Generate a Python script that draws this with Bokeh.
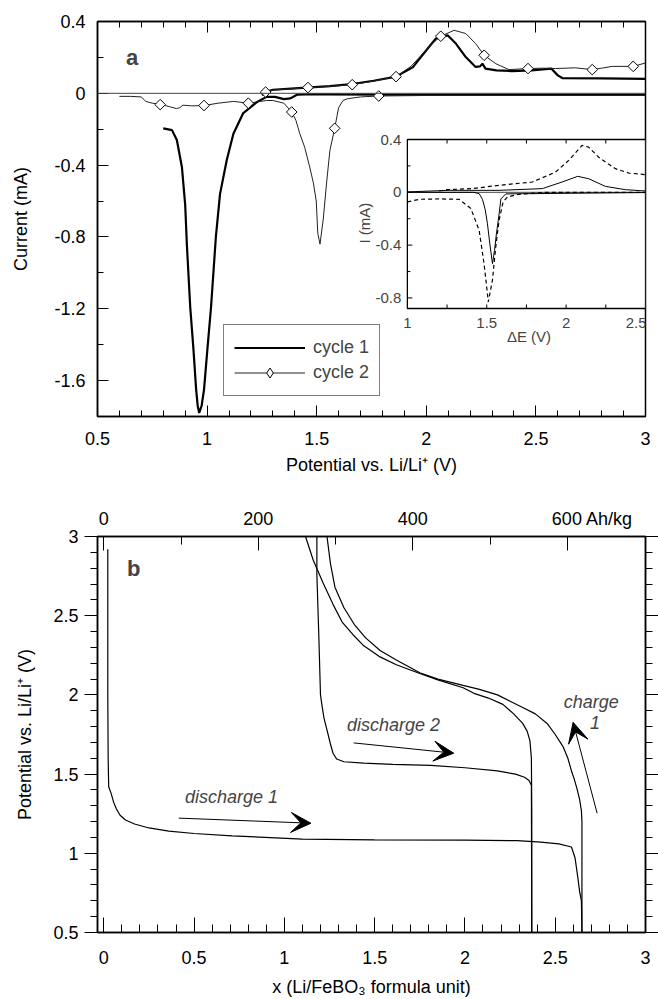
import numpy as np
from bokeh.plotting import figure
from bokeh.layouts import column
from bokeh.models import (Range1d, LinearAxis, FixedTicker, CustomJSTickFormatter, Span,
                          Legend, LegendItem, Arrow, VeeHead, Label)
from bokeh.embed import file_html
from bokeh.resources import INLINE

FONT = "Liberation Sans"

# ---------------- panel a : cyclic voltammetry ----------------
# cycle 1, cathodic sweep (3 V -> 0.8 V)
c1_cath_v = [3.0, 2.6, 2.2, 1.8, 1.55, 1.45, 1.41, 1.38, 1.35, 1.31, 1.271, 1.226, 1.165, 1.12, 1.09,
             1.059, 1.04, 1.018, 1.001, 0.986, 0.975, 0.964, 0.957, 0.95, 0.938, 0.923, 0.908, 0.90,
             0.885, 0.862, 0.84, 0.80]
c1_cath_i = [-0.008, -0.008, -0.008, -0.008, -0.006, -0.006, -0.008, -0.028, -0.032, -0.02, -0.02,
             -0.05, -0.11, -0.225, -0.37, -0.56, -0.80, -1.19, -1.43, -1.65, -1.74, -1.78, -1.74,
             -1.65, -1.43, -1.19, -0.85, -0.62, -0.41, -0.26, -0.205, -0.195]
# cycle 1, anodic sweep
c1_anod_v = [1.25, 1.27, 1.30, 1.40, 1.47, 1.56, 1.66, 1.76, 1.862, 1.94, 2.0, 2.044, 2.097, 2.135,
             2.18, 2.225, 2.245, 2.256, 2.27, 2.32, 2.39, 2.48, 2.57, 2.60, 2.62, 2.8, 3.0]
c1_anod_i = [-0.01, 0.008, 0.02, 0.028, 0.033, 0.04, 0.052, 0.07, 0.093, 0.147, 0.24, 0.305, 0.323,
             0.277, 0.202, 0.147, 0.15, 0.165, 0.138, 0.128, 0.124, 0.128, 0.138, 0.10, 0.085,
             0.083, 0.08]
# cycle 2, cathodic sweep (3 V -> 0.6 V)
c2_cath_v = [3.0, 2.5, 2.0, 1.78, 1.70, 1.64, 1.62, 1.60, 1.582, 1.56, 1.545, 1.53, 1.515, 1.505,
             1.498, 1.485, 1.468, 1.445, 1.423, 1.405, 1.386, 1.35, 1.30, 1.27, 1.19, 1.12, 1.05,
             0.986, 0.93, 0.89, 0.875, 0.86, 0.83, 0.79, 0.75, 0.72, 0.70, 0.65, 0.60]
c2_cath_i = [-0.012, -0.012, -0.012, -0.015, -0.02, -0.03, -0.04, -0.08, -0.195, -0.32, -0.5, -0.7,
             -0.84, -0.78, -0.6, -0.5, -0.41, -0.3, -0.225, -0.15, -0.104, -0.055, -0.04, -0.04,
             -0.055, -0.045, -0.055, -0.068, -0.07, -0.066, -0.08, -0.085, -0.075, -0.062, -0.055,
             -0.045, -0.02, -0.017, -0.017]
# cycle 2, anodic sweep
c2_anod_v = [1.25, 1.267, 1.30, 1.40, 1.46, 1.559, 1.662, 1.76, 1.862, 1.93, 1.983, 2.03, 2.066,
             2.127, 2.18, 2.225, 2.264, 2.317, 2.377, 2.464, 2.53, 2.59, 2.68, 2.757, 2.80, 2.848,
             2.944, 3.0]
c2_anod_i = [0.0, 0.007, 0.018, 0.026, 0.032, 0.038, 0.048, 0.068, 0.093, 0.15, 0.22, 0.28, 0.318,
             0.351, 0.333, 0.277, 0.212, 0.165, 0.132, 0.138, 0.14, 0.138, 0.142, 0.132, 0.14,
             0.15, 0.15, 0.169]
# cycle 2 symbol positions
c2_mark_v = [0.786, 0.986, 1.188, 1.386, 1.582, 1.783, 1.267, 1.46, 1.662, 1.862, 2.066, 2.264,
             2.464, 2.757, 2.944]
c2_mark_i = [-0.063, -0.068, -0.055, -0.104, -0.195, -0.015, 0.007, 0.032, 0.048, 0.093, 0.318,
             0.212, 0.138, 0.132, 0.15]

a_xticks = [0.5, 1.0, 1.5, 2.0, 2.5, 3.0]
a_xminor = [round(0.5 + 0.1 * k, 2) for k in range(26)]
a_yticks = [0.4, 0.0, -0.4, -0.8, -1.2, -1.6]
a_yminor = [0.2, -0.2, -0.6, -1.0, -1.4, -1.8]

# inset (I vs dE)
in_dash_c_x = [1.0, 1.075, 1.2, 1.326, 1.40, 1.452, 1.483, 1.51, 1.536, 1.557, 1.578, 1.603, 1.63,
               1.703, 1.87, 2.5]
in_dash_c_y = [-0.073, -0.053, -0.05, -0.053, -0.123, -0.287, -0.54, -0.83, -0.664, -0.41, -0.21,
               -0.073, -0.035, -0.015, 0.0, 0.0]
in_dash_a_x = [1.20, 1.243, 1.41, 1.578, 1.787, 1.933, 2.017, 2.10, 2.142, 2.205, 2.31, 2.394, 2.5]
in_dash_a_y = [0.01, 0.02, 0.028, 0.053, 0.078, 0.153, 0.242, 0.355, 0.342, 0.266, 0.179, 0.146,
               0.134]
in_sol_c_x = [1.0, 1.42, 1.452, 1.473, 1.49, 1.504, 1.519, 1.536, 1.549, 1.561, 1.578, 1.589, 1.62,
              2.5]
in_sol_c_y = [0.0, 0.0, -0.01, -0.053, -0.13, -0.234, -0.385, -0.54, -0.44, -0.314, -0.163, -0.05,
              -0.012, -0.002]
in_sol_a_x = [1.0, 1.264, 1.578, 1.85, 1.975, 2.073, 2.142, 2.247, 2.373, 2.5]
in_sol_a_y = [0.003, 0.015, 0.015, 0.028, 0.078, 0.121, 0.103, 0.045, 0.02, 0.01]
in_xlim = [1.0, 2.5]
in_ylim = [-0.88, 0.4]
in_xlabels = [1.0, 1.5, 2.0, 2.5]
in_xticks = [1.25, 1.5, 1.75, 2.0, 2.25]
in_yticks = [0.4, 0.0, -0.4, -0.8]
in_yminor = [0.2, -0.2, -0.6]

# ---------------- panel b : galvanostatic curves ----------------
dis1_x = [0.022, 0.022, 0.024, 0.027, 0.04, 0.055, 0.07, 0.09, 0.12, 0.17, 0.25, 0.36, 0.50, 0.71,
          1.10, 1.50, 2.00, 2.29, 2.42, 2.52, 2.59, 2.61, 2.625, 2.635, 2.645, 2.648]
dis1_v = [2.92, 2.00, 1.60, 1.42, 1.38, 1.32, 1.28, 1.24, 1.21, 1.185, 1.16, 1.14, 1.125, 1.11,
          1.09, 1.085, 1.083, 1.08, 1.07, 1.06, 1.04, 0.97, 0.85, 0.76, 0.70, 0.50]
ch1_x = [2.648, 2.648, 2.645, 2.635, 2.62, 2.605, 2.59, 2.57, 2.545, 2.50, 2.455, 2.39, 2.32, 2.25,
         2.18, 2.08, 1.99, 1.85, 1.75, 1.62, 1.53, 1.45, 1.39, 1.33, 1.28, 1.255, 1.236]
ch1_v = [0.50, 1.20, 1.27, 1.34, 1.41, 1.47, 1.52, 1.60, 1.67, 1.75, 1.82, 1.88, 1.92, 1.96, 2.00,
         2.035, 2.06, 2.10, 2.14, 2.22, 2.28, 2.36, 2.44, 2.55, 2.68, 2.83, 3.00]
dis2_x = [1.18, 1.18, 1.19, 1.20, 1.21, 1.22, 1.24, 1.255, 1.27, 1.29, 1.33, 1.44, 1.60, 1.81, 2.00,
          2.18, 2.28, 2.33, 2.355, 2.368, 2.37]
dis2_v = [3.00, 2.76, 2.40, 2.00, 1.92, 1.85, 1.76, 1.69, 1.63, 1.595, 1.578, 1.569, 1.562, 1.555,
          1.54, 1.52, 1.50, 1.48, 1.46, 1.43, 0.50]
ch2_x = [2.37, 2.37, 2.368, 2.36, 2.345, 2.32, 2.27, 2.21, 2.13, 2.05, 1.99, 1.85, 1.75, 1.62, 1.53,
         1.44, 1.38, 1.32, 1.27, 1.217, 1.16, 1.117]
ch2_v = [0.50, 1.30, 1.60, 1.71, 1.77, 1.82, 1.88, 1.94, 1.98, 2.01, 2.045, 2.095, 2.135, 2.19,
         2.24, 2.31, 2.38, 2.46, 2.57, 2.70, 2.85, 3.00]

b_xticks = [0.0, 0.5, 1.0, 1.5, 2.0, 2.5, 3.0]
b_xminor = [round(0.1 * k, 2) for k in range(31)]
b_yticks = [0.5, 1.0, 1.5, 2.0, 2.5, 3.0]
b_yminor = [round(0.5 + 0.1 * k, 2) for k in range(26)]
cap_ticks = [0, 200, 400, 600]
cap_minor = [100, 300, 500]
cap_unit = "Ah/kg"
AH_PER_KG_PER_LI = 233.7

fmt = CustomJSTickFormatter(code="return String(Math.round(tick*100)/100);")


def style_axis(ax, tin, tmin, tout=0, mout=0, standoff=8, lab_standoff=8, show_labels=True):
    ax.major_tick_in = tin
    ax.minor_tick_in = tmin
    ax.major_tick_out = tout
    ax.minor_tick_out = mout
    ax.major_tick_line_color = "black"
    ax.minor_tick_line_color = "black"
    ax.major_tick_line_width = 1
    ax.minor_tick_line_width = 1
    ax.axis_line_color = "black"
    ax.axis_line_width = 1.5
    ax.major_label_standoff = standoff
    ax.axis_label_standoff = lab_standoff
    ax.major_label_text_font = FONT
    if show_labels:
        ax.major_label_text_font_size = "18px"
        ax.major_label_text_color = "black"
    else:
        ax.major_label_text_font_size = "0px"
        ax.major_label_text_color = None
        ax.major_label_text_alpha = 0
    ax.axis_label_text_font = FONT
    ax.axis_label_text_font_size = "18px"
    ax.axis_label_text_font_style = "normal"
    ax.axis_label_text_color = "black"


# ====================== figure a ======================
p1 = figure(width=658, height=480, x_range=Range1d(0.5, 3.0), y_range=Range1d(-1.8, 0.4),
            output_backend="svg", toolbar_location=None,
            min_border_left=97, min_border_right=11, min_border_top=21, min_border_bottom=64)
p1.xgrid.visible = False
p1.ygrid.visible = False
p1.outline_line_color = "black"
p1.outline_line_width = 1.5

xa = p1.below[0]
xa.ticker = FixedTicker(ticks=a_xticks, minor_ticks=a_xminor)
xa.formatter = fmt
xa.axis_label = "Potential vs. Li/Li\u207a (V)"
style_axis(xa, 11, 6, standoff=15, lab_standoff=7)
ya = p1.left[0]
ya.ticker = FixedTicker(ticks=a_yticks, minor_ticks=a_yminor)
ya.formatter = fmt
ya.axis_label = "Current (mA)"
style_axis(ya, 11, 6, standoff=12, lab_standoff=20)
top_a = LinearAxis(ticker=FixedTicker(ticks=a_xticks, minor_ticks=a_xminor), formatter=fmt)
style_axis(top_a, 11, 6, standoff=0, show_labels=False)
p1.add_layout(top_a, "above")

p1.add_layout(Span(location=0, dimension="width", line_color="#444444", line_width=1))

r_c1 = p1.line(c1_cath_v, c1_cath_i, line_color="black", line_width=2.2)
p1.line(c1_anod_v, c1_anod_i, line_color="black", line_width=2.2)
r_c2 = p1.line(c2_cath_v, c2_cath_i, line_color="#222222", line_width=1)
p1.line(c2_anod_v, c2_anod_i, line_color="#222222", line_width=1)
p1.scatter(c2_mark_v, c2_mark_i, marker="square", angle=np.pi / 4, size=7.5,
           fill_color="white", line_color="black", line_width=1)
# legend-only key for the cycle 2 symbol (its single point is NaN, so nothing shows in the plot)
r_key = p1.scatter(x=[float("nan")], y=[float("nan")], marker="diamond", size=12,
                   fill_color="white", line_color="black", line_width=1)

legend = Legend(items=[LegendItem(label="cycle 1", renderers=[r_c1]),
                       LegendItem(label="cycle 2", renderers=[r_c2, r_key])],
                location=(126, 20), orientation="vertical")
legend.border_line_color = "black"
legend.border_line_width = 1
legend.background_fill_color = "white"
legend.background_fill_alpha = 1
legend.label_text_font = FONT
legend.label_text_font_size = "18px"
legend.glyph_width = 71
legend.glyph_height = 25
legend.label_height = 20
legend.label_standoff = 8
legend.spacing = 0
legend.padding = 10
legend.margin = 0
p1.add_layout(legend)

p1.add_layout(Label(x=0.658, y=0.2, text="a", text_font=FONT, text_font_size="22px",
                    text_font_style="bold", text_align="center", text_baseline="middle"))

# ---- inset, mapped through extra ranges onto the lower right part of the frame
fx0, fx1 = (408 - 97) / 550.0, 1.0          # inset box as fractions of the frame
fy0, fy1 = (139 - 21) / 395.0, (308 - 21) / 395.0
span_x = (in_xlim[1] - in_xlim[0]) / (fx1 - fx0)
span_y = (in_ylim[1] - in_ylim[0]) / (fy1 - fy0)
ix_end = in_xlim[1] + (1.0 - fx1) * span_x
iy_end = in_ylim[1] + fy0 * span_y
p1.extra_x_ranges = {"ix": Range1d(ix_end - span_x, ix_end)}
p1.extra_y_ranges = {"iy": Range1d(iy_end - span_y, iy_end)}
IK = dict(x_range_name="ix", y_range_name="iy")

p1.quad(left=[in_xlim[0]], right=[in_xlim[1]], bottom=[in_ylim[0]], top=[in_ylim[1]],
        fill_color="white", line_color="black", line_width=1.3, **IK)
p1.line(in_xlim, [0, 0], line_color="#444444", line_width=1, **IK)
p1.line(in_dash_c_x, in_dash_c_y, line_color="black", line_width=1.2, line_dash="4 3", **IK)
p1.line(in_dash_a_x, in_dash_a_y, line_color="black", line_width=1.2, line_dash="4 3", **IK)
p1.line(in_sol_c_x, in_sol_c_y, line_color="black", line_width=1, **IK)
p1.line(in_sol_a_x, in_sol_a_y, line_color="black", line_width=1, **IK)
# inset ticks
p1.ray(x=[in_xlim[0]] * len(in_yticks), y=in_yticks, length=5, length_units="screen",
       angle=0, line_color="black", **IK)
p1.ray(x=[in_xlim[0]] * len(in_yminor), y=in_yminor, length=3, length_units="screen",
       angle=0, line_color="black", **IK)
p1.ray(x=in_xticks, y=[in_ylim[0]] * len(in_xticks), length=4, length_units="screen",
       angle=np.pi / 2, line_color="black", **IK)
p1.ray(x=in_xticks, y=[in_ylim[1]] * len(in_xticks), length=4, length_units="screen",
       angle=-np.pi / 2, line_color="black", **IK)
for t in in_yticks:
    p1.add_layout(Label(x=in_xlim[0], y=t, text=("%g" % t), x_offset=-6, text_align="right",
                        text_baseline="middle", text_font=FONT, text_font_size="15px", **IK))
for t in in_xlabels:
    last = t == in_xlabels[-1]
    p1.add_layout(Label(x=t, y=in_ylim[0], text=("%g" % t), y_offset=-9,
                        text_align="right" if last else "center", x_offset=1 if last else 0,
                        text_baseline="top", text_font=FONT, text_font_size="15px", **IK))
p1.add_layout(Label(x=1.766, y=in_ylim[0], text="\u0394E (V)", y_offset=-19, text_align="center",
                    text_baseline="top", text_font=FONT, text_font_size="15px", **IK))
p1.add_layout(Label(x=0.73, y=-0.234, text="I (mA)", angle=np.pi / 2, text_align="center",
                    text_baseline="middle", text_font=FONT, text_font_size="15px", **IK))

# ====================== figure b ======================
p2 = figure(width=658, height=519, x_range=Range1d(-0.035, 3.0), y_range=Range1d(0.5, 3.0),
            output_backend="svg", toolbar_location=None,
            min_border_left=97, min_border_right=13, min_border_top=56, min_border_bottom=67)
p2.xgrid.visible = False
p2.ygrid.visible = False
p2.outline_line_color = "black"
p2.outline_line_width = 1.5

xb = p2.below[0]
xb.ticker = FixedTicker(ticks=b_xticks, minor_ticks=b_xminor)
xb.formatter = fmt
xb.axis_label = "x (Li/FeBO\u2083 formula unit)"
style_axis(xb, 15, 8, standoff=18, lab_standoff=10)
yb = p2.left[0]
yb.ticker = FixedTicker(ticks=b_yticks, minor_ticks=b_yminor)
yb.formatter = fmt
yb.axis_label = "Potential vs. Li/Li\u207a (V)"
style_axis(yb, 0, 0, tout=13, mout=7, standoff=6, lab_standoff=15)
right_b = LinearAxis(ticker=FixedTicker(ticks=b_yticks, minor_ticks=b_yminor), formatter=fmt)
style_axis(right_b, 0, 0, tout=13, mout=7, standoff=0, show_labels=False)
p2.add_layout(right_b, "right")

p2.extra_x_ranges = {"cap": Range1d(-0.035 * AH_PER_KG_PER_LI, 3.0 * AH_PER_KG_PER_LI)}
top_b = LinearAxis(x_range_name="cap", ticker=FixedTicker(ticks=cap_ticks, minor_ticks=cap_minor),
                   formatter=fmt)
# the last label carries the unit; padded so its number stays centred on the tick
top_b.major_label_overrides = {cap_ticks[-1]: "\u00a0" * 10 + "%d %s" % (cap_ticks[-1], cap_unit)}
style_axis(top_b, 14, 8, standoff=8)
p2.add_layout(top_b, "above")

for xs, vs in [(dis1_x, dis1_v), (ch1_x, ch1_v), (dis2_x, dis2_v), (ch2_x, ch2_v)]:
    p2.line(xs, vs, line_color="black", line_width=1.2)

p2.add_layout(Label(x=0.166, y=2.80, text="b", text_font=FONT, text_font_size="22px",
                    text_font_style="bold", text_align="center", text_baseline="middle"))


def note(p, x, y, txt, align="left"):
    p.add_layout(Label(x=x, y=y, text=txt, text_font=FONT, text_font_size="18px",
                       text_font_style="italic", text_align=align, text_baseline="middle"))


note(p2, 0.45, 1.354, "discharge 1")
note(p2, 1.347, 1.807, "discharge 2")
note(p2, 2.70, 1.954, "charge", "center")
note(p2, 2.72, 1.824, "1", "center")

for (xs0, ys0, xs1, ys1) in [(0.415, 1.222, 1.147, 1.19), (1.384, 1.697, 1.938, 1.632),
                             (2.732, 1.253, 2.599, 1.827)]:
    p2.add_layout(Arrow(end=VeeHead(size=20, fill_color="black", line_color="black"),
                        x_start=xs0, y_start=ys0, x_end=xs1, y_end=ys1,
                        line_color="black", line_width=1))

layout = column(p1, p2)
open("out.html", "w").write(file_html(layout, INLINE))
